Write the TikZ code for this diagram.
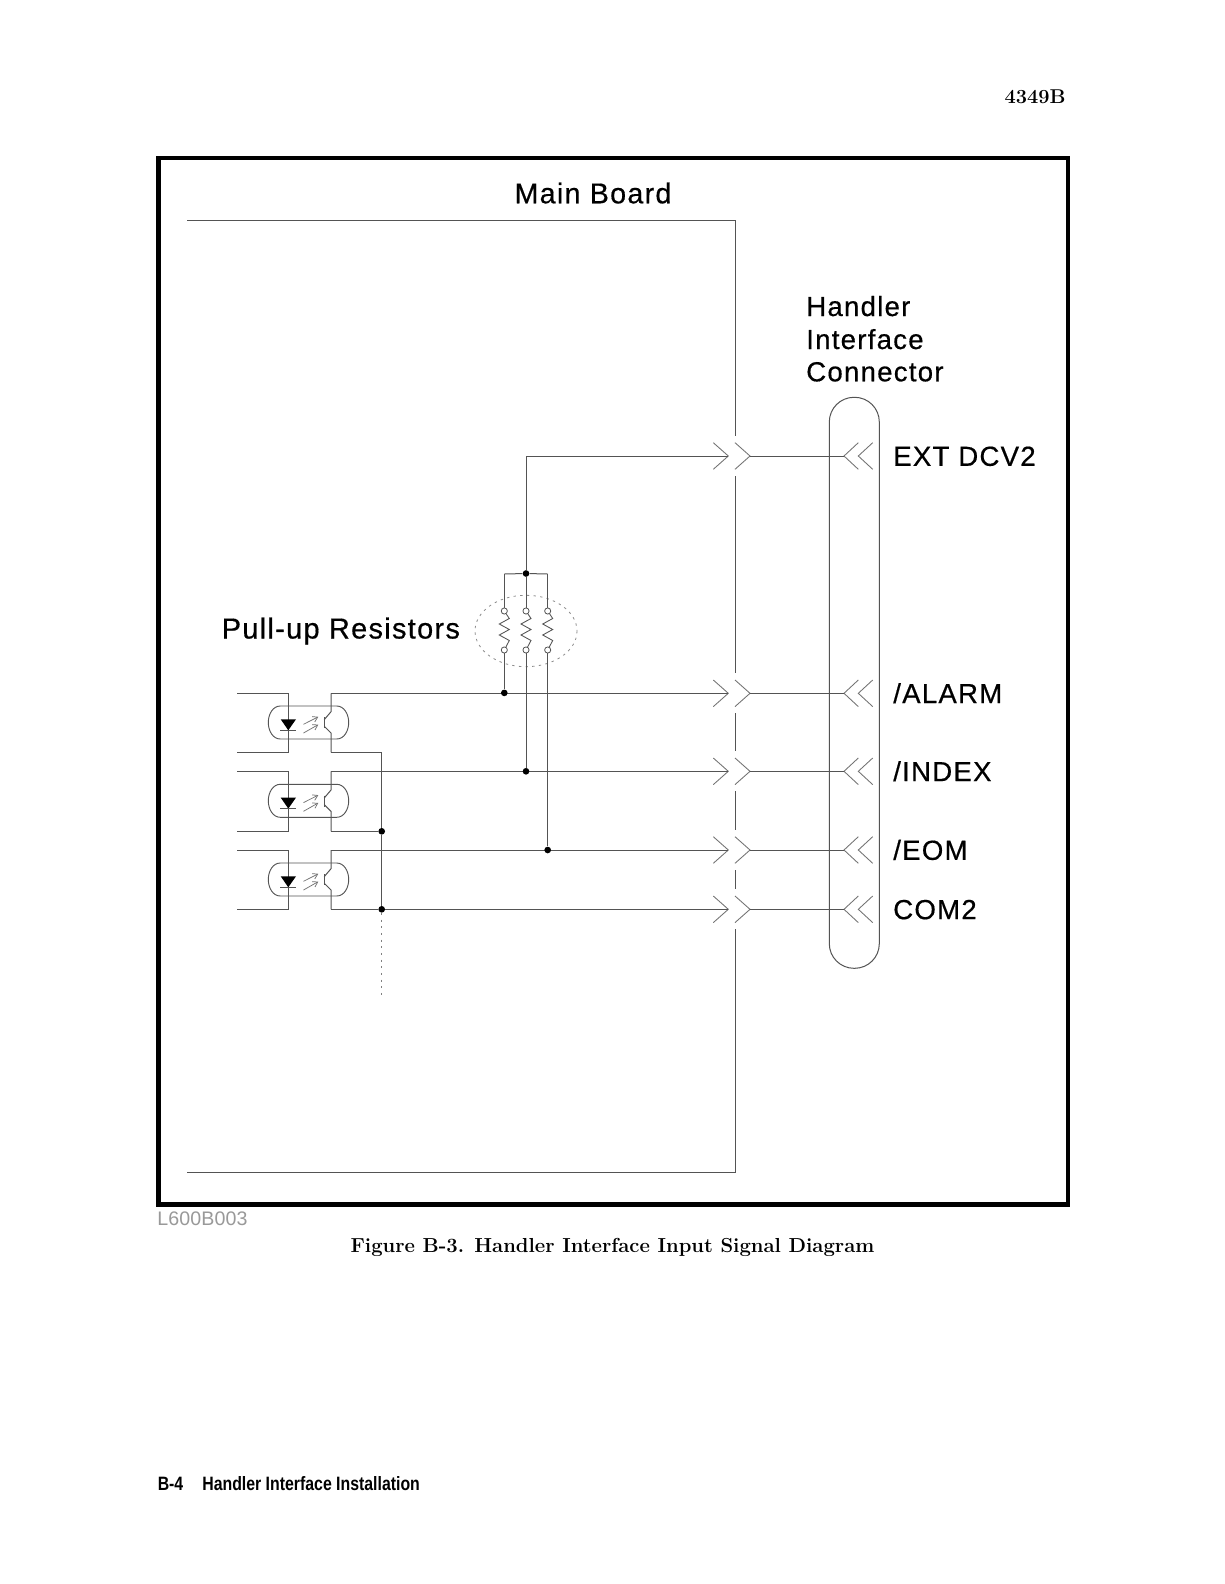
\documentclass[tikz,border=0pt]{standalone}
\usepackage{fontspec}
\setsansfont{Liberation Sans}
\usetikzlibrary{arrows.meta}
\definecolor{wirecol}{gray}{0.33}
\newfontfamily\labelfont[LetterSpace=4.5,FakeBold=0.5]{Liberation Sans}
\newfontfamily\artfont[LetterSpace=0.6]{Liberation Sans}
\tikzset{
  wire/.style={draw=wirecol,line width=0.75pt},
  frame/.style={draw=black,line width=3.5pt},
  chev/.style={draw=black!55,line width=0.65pt},
  dot/.style={circle,fill=black,inner sep=0pt,minimum size=5pt},
  pin/.style={circle,draw=wirecol,fill=white,line width=0.6pt,inner sep=0pt,minimum size=4.6pt},
  lbl/.style={font=\labelfont\fontsize{20.7}{22}\selectfont,text=black,inner sep=0pt,anchor=base west},
  biglbl/.style={lbl,font=\labelfont\fontsize{21.5}{22}\selectfont},
  pulllbl/.style={lbl,font=\labelfont\fontsize{21.7}{22}\selectfont},
  optoline/.style={wire,line width=0.7pt},
  lightarrow/.style={draw=black!55,line width=0.55pt,-{Straight Barb[length=3.6pt,width=4.5pt]}},
}
\begin{document}
\begin{tikzpicture}[x=0.75pt,y=-0.75pt]
\useasboundingbox (0,0) rectangle (1224,1584);
\fill[white] (0,0) rectangle (1224,1584);
% page furniture
\node[anchor=base east,inner sep=0pt,font=\fontsize{15}{18}\selectfont\bfseries] (pagehead) at (1066,103.5) {4349B};
\draw[frame] (158.3,158) rectangle (1068,1204.7);
\node[anchor=base west,inner sep=0pt,text=black!40,font=\artfont\fontsize{14.7}{18}\selectfont] (artno) at (157,1225) {L600B003};
\node[anchor=base,inner sep=0pt,font=\fontsize{15.2}{18}\selectfont\bfseries] (caption) at (612.5,1252) {Figure B-3. Handler Interface Input Signal Diagram};
\node[anchor=base west,inner sep=0pt,font=\sffamily\bfseries\fontsize{14.5}{18}\selectfont] (footer) at (157.5,1490) {\scalebox{0.82}[1]{B-4\hspace{1.2em}Handler Interface Installation}};
% main board outline
\coordinate (mbtl) at (187,220.3);
\coordinate (mbtr) at (735.3,220.3);
\coordinate (mbbr) at (735.3,1172.3);
\coordinate (mbbl) at (187,1172.3);
\node[biglbl,anchor=base] (mainboard) at (593,203.3) {Main Board};
\draw[wire] (mbtl) -- (mbtr) -- (735.3,436);
\draw[wire] (735.3,476) -- (735.3,673);
\draw[wire] (735.3,713) -- (735.3,751);
\draw[wire] (735.3,791) -- (735.3,830);
\draw[wire] (735.3,870) -- (735.3,889);
\draw[wire] (735.3,929) -- (mbbr) -- (mbbl);
% connector
\node[lbl] (hic1) at (806,316) {Handler};
\node[lbl] (hic2) at (806,349) {Interface};
\node[lbl] (hic3) at (806,381.3) {Connector};
\draw[wire,rounded corners=18.5pt] (829.3,397.3) rectangle (879.3,968.3);
% rows: chevrons, wires and signal labels
\foreach \nm/\yy/\txt in {ext/456/EXT DCV2,alarm/693.3/{/ALARM},index/771.3/{/INDEX},eom/850/{/EOM},com/909.3/COM2}{
  \coordinate (\nm L) at (728.3,\yy);
  \coordinate (\nm R) at (750,\yy);
  \coordinate (\nm C) at (844,\yy);
  \draw[chev] (713.3,\yy-13.3) -- (\nm L) -- (713.3,\yy+13.3);
  \draw[chev] (735,\yy-13.3) -- (\nm R) -- (735,\yy+13.3);
  \draw[chev] (858.3,\yy-13.3) -- (\nm C) -- (858.3,\yy+13.3);
  \draw[chev] (872.7,\yy-13.3) -- (858.3,\yy) -- (872.7,\yy+13.3);
  \draw[wire] (\nm R) -- (\nm C);
  \node[lbl] (\nm T) at (893,\yy+9.8) {\txt};
}
% optocouplers
\foreach \nm/\tp/\bt/\bx in {a/693.3/752.3/706,b/771.3/831.3/784.3,c/850/909.3/863}{
  \coordinate (\nm lt) at (237,\tp);
  \coordinate (\nm dt) at (288.3,\tp);
  \coordinate (\nm db) at (288.3,\bt);
  \coordinate (\nm lb) at (237,\bt);
  \coordinate (\nm tt) at (331,\tp);
  \coordinate (\nm cc) at (331,\bx+5.7);
  \coordinate (\nm ee) at (331,\bx+27);
  \coordinate (\nm tb) at (331,\bt);
  \draw[wire] (\nm lt) -- (\nm dt) -- (\nm db) -- (\nm lb);
  \draw[optoline] (280.3,\bx) -- (336.7,\bx)
     .. controls (344,\bx) and (348.7,\bx+8) .. (348.7,\bx+16.5)
     .. controls (348.7,\bx+25) and (344,\bx+33) .. (336.7,\bx+33)
     -- (280.3,\bx+33)
     .. controls (273,\bx+33) and (268.3,\bx+25) .. (268.3,\bx+16.5)
     .. controls (268.3,\bx+8) and (273,\bx) .. (280.3,\bx) -- cycle;
  \fill[black] (280.7,\bx+13.3) -- (296,\bx+13.3) -- (288.3,\bx+24.3) -- cycle;
  \draw[wire] (280.3,\bx+24.6) -- (296,\bx+24.6);
  \draw[lightarrow] (303.5,\bx+18.3) -- (318.3,\bx+10.8);
  \draw[lightarrow] (303.5,\bx+27) -- (318.3,\bx+18.6);
  \draw[wire,line width=1.1pt] (324.3,\bx+11.3) -- (324.3,\bx+22.3);
  \draw[wire] (\nm tt) -- (\nm cc) -- (324.3,\bx+13.6);
  \draw[wire] (324.3,\bx+20.3) -- (\nm ee) -- (\nm tb);
}
% bus and dots
\node[dot] (busb) at (381.7,831.3) {};
\node[dot] (busc) at (381.7,909.3) {};
\coordinate (busa) at (381.7,752.3);
\coordinate (busend) at (381.7,995);
\draw[wire] (att) -- (alarmL);
\draw[wire] (btt) -- (indexL);
\draw[wire] (ctt) -- (eomL);
\draw[wire] (atb) -- (busa) -- (busb) -- (busc);
\draw[wire] (btb) -- (busb);
\draw[wire] (ctb) -- (busc) -- (comL);
\draw[draw=black!50,line width=0.7pt,dash pattern=on 1.6pt off 3.4pt] (busc) -- (busend);
% pull-up resistors
\node[pulllbl] (pullup) at (221.5,638.5) {Pull-up Resistors};
\draw[draw=black!45,line width=0.6pt,dash pattern=on 1.8pt off 3.2pt] (526,631) ellipse [x radius=51,y radius=35.7];
\node[dot] (top) at (526,573.5) {};
\node[dot] (jalarm) at (504.3,692.9) {};
\node[dot] (jindex) at (526,771.3) {};
\node[dot] (jeom) at (547.7,850) {};
\coordinate (topl) at (504.3,574);
\coordinate (topr) at (547.7,574);
\coordinate (extc) at (526,456);
\draw[wire] (topl) -- (top) -- (topr);
\draw[wire] (top) -- (extc) -- (extL);
\foreach \nm/\xx/\jn/\tc in {l/504.3/jalarm/topl,m/526/jindex/top,r/547.7/jeom/topr}{
  \node[pin] (up\nm) at (\xx,611) {};
  \node[pin] (dn\nm) at (\xx,650) {};
  \draw[wire] (\tc) -- (up\nm);
  \draw[wire] (dn\nm) -- (\jn);
  \draw[wire,line width=0.65pt] (up\nm) -- (\xx+5,618.5) -- (\xx-5,624) -- (\xx+5,629.5) -- (\xx-5,635) -- (\xx+5,640.5) -- (dn\nm);
}
\end{tikzpicture}
\end{document}
